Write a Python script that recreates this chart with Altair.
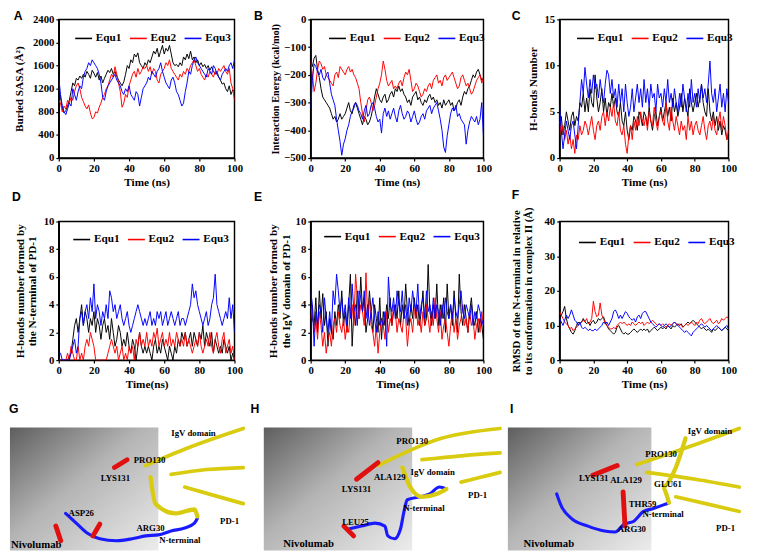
import altair as alt
import pandas as pd

# ---------------- data ----------------
time_ns = list(range(101))
series_names = ["Equ1", "Equ2", "Equ3"]
series_colors = ["#000000", "#ff0000", "#0000ff"]

# A: Buried SASA (Å^2)
sasa_equ1 = [1200, 1050, 850, 780, 820, 900, 1000, 1150, 1300, 1250, 1380,
             1350, 1420, 1380, 1450, 1400, 1500, 1450, 1380, 1520, 1470,
             1400, 1480, 1350, 1420, 1300, 1380, 1450, 1520, 1480, 1550,
             1450, 1500, 1420, 1350, 1300, 1250, 1320, 1450, 1600, 1550,
             1700, 1650, 1800, 1750, 1820, 1650, 1600, 1550, 1650, 1600,
             1700, 1650, 1750, 1850, 1800, 1900, 1750, 1850, 1950, 1800,
             1900, 1850, 1950, 1800, 1650, 1600, 1620, 1580, 1650, 1600,
             1750, 1700, 1800, 1720, 1850, 1700, 1750, 1650, 1700, 1600,
             1650, 1580, 1620, 1550, 1600, 1520, 1580, 1500, 1450, 1500,
             1400, 1350, 1280, 1300, 1200, 1150, 1250, 1100, 1180, 1150]
sasa_equ2 = [1000, 950, 800, 900, 850, 1000, 950, 1050, 1000, 1150, 1250,
             1300, 1200, 1050, 980, 900, 850, 920, 780, 680, 700,
             800, 780, 880, 950, 1050, 1100, 1200, 1250, 1350, 1450,
             1400, 1580, 1450, 1300, 1150, 880, 950, 1100, 1050, 1250,
             1350, 1450, 1500, 1400, 1550, 1450, 1500, 1580, 1550, 1600,
             1500, 1580, 1450, 1550, 1500, 1350, 1300, 1450, 1500, 1550,
             1650, 1600, 1700, 1550, 1500, 1450, 1400, 1350, 1450, 1400,
             1500, 1450, 1550, 1500, 1600, 1650, 1700, 1600, 1500, 1550,
             1450, 1400, 1350, 1450, 1400, 1500, 1450, 1400, 1500, 1450,
             1550, 1500, 1550, 1600, 1500, 1450, 1550, 1300, 1200, 1000]
sasa_equ3 = [1400, 1100, 900, 800, 750, 850, 950, 900, 1200, 1100, 1000,
             1150, 1250, 1200, 1400, 1500, 1550, 1650, 1600, 1700, 1650,
             1600, 1550, 1450, 1300, 1050, 1000, 1150, 1250, 1300, 1350,
             1400, 1450, 1350, 1300, 1250, 1150, 1100, 1200, 1150, 1250,
             1100, 1050, 1000, 1150, 1100, 900, 1050, 1200, 1250, 1300,
             1400, 1350, 1500, 1450, 1400, 1500, 1550, 1650, 1500, 1400,
             1300, 1250, 1200, 1350, 1400, 1300, 1150, 1100, 1000, 900,
             950, 1150, 1300, 1500, 1450, 1600, 1700, 1750, 1650, 1600,
             1550, 1500, 1450, 1400, 1550, 1500, 1450, 1600, 1550, 1450,
             1400, 1350, 1450, 1500, 1550, 1500, 1600, 1650, 1550, 1700]

# B: Interaction energy (kcal/mol)
ener_equ1 = [-150, -170, -140, -130, -180, -210, -250, -280, -290, -300, -310,
             -320, -340, -360, -350, -370, -360, -340, -360, -350, -340,
             -320, -300, -330, -340, -310, -300, -320, -340, -360, -380,
             -350, -360, -380, -370, -350, -320, -280, -250, -270, -290,
             -300, -280, -270, -300, -290, -270, -260, -280, -250, -260,
             -240, -260, -250, -270, -280, -300, -290, -310, -280, -270,
             -260, -290, -280, -300, -310, -290, -300, -280, -270, -290,
             -280, -300, -290, -310, -300, -320, -290, -310, -300, -290,
             -310, -300, -330, -320, -300, -290, -310, -280, -260, -270,
             -250, -240, -220, -200, -210, -190, -180, -200, -220, -210]
ener_equ2 = [-150, -200, -260, -230, -180, -150, -160, -180, -170, -200, -210,
             -220, -230, -240, -200, -190, -210, -170, -180, -190, -200,
             -180, -170, -190, -180, -200, -210, -230, -250, -300, -340,
             -370, -330, -290, -280, -300, -330, -310, -280, -250, -230,
             -200, -150, -180, -220, -240, -230, -220, -250, -240, -250,
             -230, -220, -240, -210, -190, -200, -180, -220, -260, -250,
             -230, -240, -260, -280, -270, -250, -260, -240, -230, -250,
             -220, -210, -200, -230, -220, -240, -210, -200, -220, -210,
             -200, -190, -210, -230, -250, -240, -210, -200, -220, -240,
             -230, -250, -270, -260, -240, -220, -210, -200, -230, -210]
ener_equ3 = [-320, -220, -160, -170, -190, -200, -180, -210, -220, -200, -190,
             -230, -270, -290, -310, -360, -400, -440, -490, -450, -430,
             -400, -380, -350, -330, -320, -300, -310, -330, -340, -360,
             -330, -310, -350, -340, -310, -300, -320, -350, -370, -360,
             -410, -340, -320, -350, -330, -360, -340, -320, -350, -370,
             -330, -310, -340, -360, -350, -330, -340, -370, -350, -330,
             -360, -380, -370, -350, -340, -360, -330, -320, -310, -340,
             -320, -310, -300, -330, -360, -400, -460, -480, -420, -380,
             -340, -320, -330, -310, -350, -340, -360, -370, -380, -450,
             -400, -370, -350, -360, -370, -350, -380, -360, -300, -420]

# C: H-bonds number
hb_equ1 = [3, 4.5, 2.5, 3.5, 5, 4, 3, 4.5, 5, 3.5, 4.5,
           4, 6, 5.5, 7, 5, 6.5, 5, 7.5, 6, 5.5,
           9, 6.5, 5, 6, 7.5, 5, 6.5, 4.5, 6, 5.5,
           7, 5.5, 6.5, 5, 4.5, 6, 4, 3.5, 5, 3,
           2, 3.5, 3, 4.5, 4, 3, 5, 4.5, 3.5, 5,
           4.5, 3.5, 5.5, 4, 3, 4.5, 5, 3.5, 4.5, 5.5,
           4, 5, 6, 4.5, 5.5, 4, 6.5, 5, 6, 4.5,
           5.5, 7, 5, 6.5, 5.5, 4.5, 7.5, 6, 5, 6,
           7, 5.5, 6.5, 8, 6, 5, 4.5, 7.5, 5, 4,
           5, 3.5, 4.5, 3, 4, 2.5, 3.5, 3, 2, 2.5]
hb_equ2 = [4, 2.5, 3.5, 2, 3, 1.5, 2.5, 1, 2, 0.5, 2.5,
           2, 3.5, 2.5, 3, 4, 3.5, 2.5, 3.5, 4.5, 3,
           2, 3.5, 4, 3, 4.5, 5, 3.5, 5, 4, 5.5,
           4.5, 6, 4, 3.5, 5, 3, 2.5, 3.5, 1.5, 0.5,
           2.5, 3.5, 2, 4, 3, 4.5, 3.5, 5, 4, 3.5,
           4.5, 3, 5, 4, 3.5, 5.5, 4, 3, 4.5, 5,
           4, 3.5, 6, 4, 3, 5.5, 4, 3, 4.5, 3.5,
           2.5, 4, 3, 3.5, 2, 4.5, 3, 4, 2.5, 3.5,
           4, 3, 2.5, 3.5, 4.5, 3, 2, 3.5, 4, 3,
           4.5, 3, 2.5, 4, 5, 3, 4.5, 3.5, 2, 3]
hb_equ3 = [5.5, 3, 1, 2.5, 4, 3, 2, 3.5, 4, 2.5, 1,
           3.5, 6, 8.5, 7, 9.8, 8, 6.5, 8.5, 7, 9,
           7.5, 8, 6.5, 8.5, 7, 6, 8, 9.5, 9, 7,
           8.5, 6.5, 7.5, 5.5, 8, 6, 7.5, 5, 8, 6,
           4.5, 5.5, 7.5, 5, 6.5, 8, 6, 7.5, 5.5, 8.5,
           6, 7.5, 5.5, 8, 6.5, 7, 5, 8, 6.5, 7,
           5.5, 7.5, 6, 8.5, 6, 7, 5.5, 7.5, 6, 5,
           7, 5.5, 8, 6.5, 5, 7, 5.5, 8.5, 6, 7,
           5.5, 7.5, 6, 8, 6.5, 7.5, 6, 8, 10.5, 7,
           6, 7.5, 5, 6.5, 8, 5.5, 7, 5, 7.5, 6]

# D: H-bonds formed by the N-terminal of PD-1
nt_equ1 = [0, 0, 0, 0, 0, 0, 0.3, 0.5, 1.5, 2.5, 3,
           2, 3, 4, 2.5, 3.5, 3, 2, 3, 2.5, 3.5,
           2, 3, 2.5, 1.5, 2.5, 3, 2, 2.5, 1.5, 3,
           2, 1, 1.5, 2.5, 2, 1, 1.5, 1, 2, 1,
           0.5, 1.5, 1, 0, 1, 2, 1, 0.5, 1, 0.5,
           1, 0.5, 0, 1, 1.5, 0.5, 1, 0.5, 1.5, 1,
           0.5, 0, 1, 0.5, 0, 1, 0.5, 1.5, 1, 2,
           1.5, 2, 1, 1.5, 2, 1, 2, 1.5, 1, 2,
           1.5, 2.5, 1, 2, 1.5, 1, 2, 0.5, 1.5, 1,
           0.5, 1, 0.5, 1.5, 1, 0.5, 1, 0, 0.5, 0]
nt_equ2 = [0, 0, 0, 0, 0, 0.5, 0, 1, 0.5, 0, 0,
           1, 0, 0.5, 0, 1, 1.5, 1, 2, 1.5, 1,
           0, 0, 0, 0, 0, 0, 0, 0.5, 1, 1.5,
           1, 0.5, 1, 0, 0.5, 1, 0, 0.5, 0, 1,
           0.5, 1, 0, 1.5, 1, 2, 1, 1.5, 1, 2,
           1, 1.5, 1, 2, 1.5, 2.3, 1, 1.5, 2, 1,
           1.5, 1, 2, 1, 1.5, 1, 2, 1.5, 1, 1.5,
           1, 2, 1, 1.5, 1, 0.5, 1, 1.5, 1, 2,
           1, 0.5, 1, 1.5, 1, 2, 1, 0.5, 1.5, 2,
           1, 0.5, 1.5, 2, 0.5, 1, 1.5, 0.5, 1, 0]
nt_equ3 = [0.5, 0.5, 0, 0, 0, 0, 0, 0.5, 1, 1.5, 0.5,
           1, 3, 3.5, 2.5, 3.5, 4, 3, 4.5, 3.5, 5.5,
           3, 4, 3.5, 2.5, 3.5, 3, 4, 3, 5, 4.5,
           3.5, 4, 3, 3.5, 4, 3, 2.5, 3, 3.5, 2.5,
           2, 2.5, 3, 3.5, 4, 3.5, 3, 2.5, 3, 2.5,
           3, 3.5, 2.5, 3, 2.5, 3.5, 3, 3.5, 2.5, 3,
           3.5, 2.5, 3, 3.5, 3, 2.5, 3, 3.5, 2.5, 3,
           3, 2.5, 3, 3.5, 4, 5.5, 4.5, 5, 4, 3.5,
           3, 2.5, 3, 3.5, 2.5, 3, 4, 4.5, 6.2, 4,
           3.5, 3, 2.5, 3, 3.5, 3, 4.5, 3, 4, 2]

# E: H-bonds formed by the IgV domain of PD-1
igv_equ1 = [4, 3, 2.5, 4.5, 2, 5, 3, 4.8, 2.5, 3.5, 1,
            3, 2, 1.5, 3.5, 2.5, 4, 3, 5, 2.5, 3.5,
            2, 4, 6.2, 1, 3.5, 2.5, 5, 3, 6, 3.5,
            4.5, 2, 3, 5, 3.5, 2, 4, 3, 2, 4.5,
            1.5, 3.5, 2.5, 4, 3, 4.5, 2.5, 3.5, 4, 3,
            5, 2.5, 4, 3, 5.5, 3.5, 2.5, 4, 3, 4.5,
            3, 4, 2.5, 3.5, 5, 2.5, 3, 6.9, 3.5, 2.5,
            4, 3, 5.5, 2.5, 4, 3, 4.5, 2, 5.5, 3,
            4, 2.5, 5, 3, 2, 6.2, 3.5, 2.5, 4, 3,
            2, 3.5, 4.5, 3, 2.5, 3.5, 2, 3, 2.5, 1.5]
igv_equ2 = [3, 4, 2, 3, 1.5, 3.5, 2.5, 1, 2, 0.5, 1.5,
            2, 1, 2.5, 3, 2, 3.5, 2.5, 2, 3, 1.5,
            2.5, 2, 3.5, 4, 2.5, 6.2, 4.5, 3, 4, 3.5,
            2.5, 6.3, 3, 4.5, 2.5, 2, 1, 2.5, 0.5, 2,
            3, 2.5, 1.5, 3.5, 2, 3, 2.5, 4, 3.5, 2,
            3, 2.5, 2, 3.5, 3, 1, 2.5, 3, 2, 3.5,
            4, 2.5, 3, 2, 3.5, 2.5, 4, 3, 2, 3.5,
            2.5, 4.5, 3, 2, 3.5, 1.5, 2.5, 3, 2, 1,
            2.5, 3.5, 2, 3, 1.5, 2.5, 3, 4, 2.5, 3,
            2, 3.5, 2.5, 3, 1.5, 2.5, 3, 2, 3.5, 2.5]
igv_equ3 = [5, 4, 1, 3.5, 2.5, 4, 3.5, 2, 4.5, 3, 2,
            3.5, 2, 5, 4, 6.2, 5, 3.5, 4.5, 3, 4,
            2.5, 4.5, 3, 5.5, 3.5, 4, 2.5, 5, 4.5, 3.5,
            5, 3, 4, 2.5, 3.5, 4.5, 3, 2, 3.5, 2.5,
            3, 2.5, 3.5, 1, 6, 4, 3.5, 4.5, 3, 5,
            4, 3.5, 5, 3, 4, 2.5, 4.5, 3.5, 5, 4,
            3.5, 5.5, 3, 4, 4.5, 3, 5, 3.5, 4, 3,
            4.5, 3, 4, 3.5, 2.5, 4, 3, 4.5, 3.5, 3,
            4, 3, 4.5, 3.5, 3, 4, 5, 3.5, 3, 4,
            3.5, 3, 4, 2.5, 3.5, 3, 4, 3.5, 2.5, 3]

# F: RMSD of the N-terminal (Å)
rmsd_equ1 = [12, 13, 14, 15.5, 12, 10, 9, 8, 7.5, 8.5, 10,
             11, 10.5, 11, 12, 11, 10.5, 11, 10, 11, 11.5,
             10.5, 11, 12, 11.5, 12, 12.5, 11, 10, 9, 8.5,
             8, 7.5, 8, 9.5, 10, 9, 8, 7.5, 8, 7.5,
             7.5, 8, 8.5, 9, 8.5, 8, 8.5, 9, 8.5, 9,
             8.5, 9, 8, 8.5, 9, 9.5, 9, 8.5, 9, 9.5,
             9, 9.5, 9, 10, 9.5, 9, 10, 9.5, 10, 10.5,
             10, 10.5, 9.5, 10, 10.5, 11, 10.5, 11, 11.5, 11,
             10.5, 10, 9.5, 9, 9.5, 9, 8.5, 9, 8.5, 8,
             9, 8.5, 9, 9.5, 9, 8.5, 9, 9.5, 9, 8.5]
rmsd_equ2 = [14, 13, 12, 11, 10.5, 10, 9, 9.5, 8.5, 9, 9.5,
             10, 10.5, 11, 11.5, 11, 12, 10.5, 11, 12, 17,
             14, 12.5, 13, 16.5, 13, 12, 10.5, 10, 9.5, 9,
             9, 9.5, 9, 10, 10.5, 11, 10.5, 11, 10.5, 10,
             10.5, 10, 11, 10.5, 10, 10.5, 11, 10.5, 11, 10,
             10.5, 11, 10.5, 11, 11.5, 11, 10.5, 10, 10.5, 10,
             10.5, 10, 9.5, 10, 10.5, 10, 10.5, 11, 10.5, 10,
             10.5, 10, 9.5, 10, 10.5, 10, 10.5, 11, 10.5, 10,
             11, 10.5, 11.5, 12, 11, 10.5, 11, 11.5, 12, 11,
             10.5, 11, 11.5, 10.5, 11, 12, 11.5, 12, 12.5, 12]
rmsd_equ3 = [12, 11, 10, 11.5, 13, 12, 13, 14.5, 13, 11.5, 11,
             10, 11, 9.5, 9, 9.5, 9, 8.5, 9, 8.5, 8.5,
             9, 8.5, 9, 9.5, 10, 11, 10.5, 11, 10, 11,
             12, 14, 14.5, 13.5, 12, 13, 12, 13, 14, 13.5,
             12.5, 12, 11.5, 12, 11, 12.5, 13, 12, 13.5, 14,
             14, 13, 12, 11, 10.5, 10, 9.5, 10, 10.5, 10,
             9.5, 10, 10.5, 10, 9.5, 10, 10.5, 11, 10.5, 10,
             9.5, 9, 8.5, 8, 8.5, 8, 7.5, 7, 8, 8.5,
             9, 9.5, 10, 10.5, 10, 9.5, 10, 9.5, 9, 8.5,
             9, 9.5, 10, 9.5, 9, 8.5, 9, 9.5, 10, 9]

x_ticks = [0, 20, 40, 60, 80, 100]

# ---------------- illustration placeholders for panels G, H, I ----------------
# (page-like coordinates; the molecular renderings themselves cannot be reproduced)
surface_boxes = [(8, 160), (268, 420), (518, 665)]
ribbon_paths = {
    "g_blue": ("blue", [(65, 517), (77, 528), (87, 537), (100, 543), (117, 545), (133, 543),
                        (147, 540), (160, 539), (173, 535), (187, 532), (197, 527), (200, 522)]),
    "g_y1": ("yellow", [(147, 468), (190, 450), (247, 430)]),
    "g_y2": ("yellow", [(173, 477), (210, 472), (247, 470)]),
    "g_y3": ("yellow", [(187, 490), (215, 498), (247, 507)]),
    "g_loop": ("thin", [(152, 480), (157, 507), (177, 517), (197, 513), (200, 520)]),
    "g_r1": ("red", [(115, 470), (128, 462)]),
    "g_r2": ("red", [(55, 530), (60, 545)]),
    "g_r3": ("red", [(93, 540), (100, 528)]),
    "h_blue": ("blue", [(355, 533), (368, 530), (382, 527), (392, 530), (395, 540), (402, 543),
                        (408, 533), (412, 513), (415, 503), (428, 500), (438, 497), (448, 490), (455, 492)]),
    "h_y1": ("yellow", [(385, 468), (450, 440), (510, 430)]),
    "h_y2": ("yellow", [(430, 462), (470, 458), (510, 455)]),
    "h_y3": ("yellow", [(470, 485), (490, 480), (510, 475)]),
    "h_loop": ("thin", [(410, 470), (418, 490), (430, 500), (445, 497), (455, 492)]),
    "h_r1": ("red", [(363, 482), (385, 465)]),
    "h_r2": ("red", [(350, 530), (360, 540)]),
    "i_blue": ("blue", [(568, 497), (573, 510), (583, 522), (600, 530), (617, 535), (628, 536),
                        (637, 528), (647, 525), (657, 515), (667, 512), (678, 508), (683, 506)]),
    "i_y1": ("yellow", [(650, 467), (700, 450), (755, 430)]),
    "i_y2": ("yellow", [(660, 475), (710, 482), (755, 490)]),
    "i_y3": ("yellow", [(690, 500), (725, 508), (755, 515)]),
    "i_loop": ("thin", [(700, 440), (690, 470), (676, 490), (683, 506)]),
    "i_r1": ("red", [(605, 478), (630, 468)]),
    "i_r2": ("red", [(636, 495), (638, 530)]),
}
residue_labels = [
    ("IgV domain", 196, 435), ("PRO130", 151, 462), ("LYS131", 116, 481), ("ASP26", 81, 517),
    ("ARG30", 152, 532), ("PD-1", 233, 525), ("N-terminal", 182, 544),
    ("PRO130", 420, 443), ("IgV domain", 441, 475), ("ALA129", 397, 480), ("LYS131", 363, 492),
    ("PD-1", 487, 498), ("N-terminal", 432, 512), ("LEU25", 362, 526),
    ("IgV domain", 725, 433), ("PRO130", 675, 456), ("LYS131", 606, 481), ("ALA129", 639, 483),
    ("GLU61", 682, 487), ("THR59", 656, 507), ("N-terminal", 677, 518), ("ARG30", 645, 533),
    ("PD-1", 741, 532),
]
mol_labels = [("Nivolumab", 9, 549), ("Nivolumab", 288, 548), ("Nivolumab", 534, 548)]
panel_letters = [("G", 12, 410), ("H", 259, 410), ("I", 522, 410)]

# ---------------- styling ----------------
SERIF = "Liberation Serif"
SANS = "Liberation Sans"
COL_W = [180, 177, 173]
ROW_H = 142
COL_GAP = 78
ROW_GAP = 65
TOP0 = 16     # page y of the first row's plot top
LEFT0 = 58    # page x of the first column's plot left
BOTTOM_NUDGE = 5


def long_df(a1, a2, a3):
    rows = []
    for name, arr in zip(series_names, (a1, a2, a3)):
        for t, v in zip(time_ns, arr):
            rows.append({"time": t, "value": v, "series": name})
    return pd.DataFrame(rows)


def line_layer(df, ytitle, ydomain, yticks, xtitle, legx, legy, ytitle_pad, ytitle_size=11.5):
    return alt.Chart(df).mark_line(strokeWidth=1.0, clip=True).encode(
        x=alt.X("time:Q", scale=alt.Scale(domain=[0, 100], nice=False),
                axis=alt.Axis(values=x_ticks, title=xtitle, format="d")),
        y=alt.Y("value:Q", scale=alt.Scale(domain=ydomain, nice=False, zero=False),
                axis=alt.Axis(values=yticks, title=ytitle, format="d",
                              titlePadding=ytitle_pad, titleFontSize=ytitle_size)),
        color=alt.Color("series:N",
                        scale=alt.Scale(domain=series_names, range=series_colors),
                        legend=alt.Legend(orient="none", legendX=legx, legendY=legy,
                                          direction="horizontal", title=None,
                                          symbolType="stroke", symbolSize=300,
                                          symbolStrokeWidth=1.6, labelFont=SERIF,
                                          labelFontWeight="bold", labelFontSize=11.5,
                                          labelColor="#000", columnPadding=4,
                                          labelOffset=3, padding=0)),
        detail="series:N",
    )


def letter_title(letter, dx, offset):
    return alt.TitleParams(letter, anchor="start", frame="group", dx=dx, offset=offset,
                           font=SANS, fontSize=12.5, fontWeight="bold", color="#000")


lA = line_layer(long_df(sasa_equ1, sasa_equ2, sasa_equ3), "Buried SASA (Å²)", [0, 2400],
                [0, 400, 800, 1200, 1600, 2000, 2400], "Time (ns)", 16, 10, 8)
lB = line_layer(long_df(ener_equ1, ener_equ2, ener_equ3), "Interaction Energy (kcal/mol)",
                [-500, 0], [-500, -400, -300, -200, -100, 0], "Time (ns)", 18, 10, 3, 10.5)
lC = line_layer(long_df(hb_equ1, hb_equ2, hb_equ3), "H-bonds Number", [0, 15], [0, 5, 10, 15],
                "Time (ns)", 17, 10, 6)
lD = line_layer(long_df(nt_equ1, nt_equ2, nt_equ3),
                ["H-bonds number formed by", "the N-terminal of PD-1"], [0, 10],
                [0, 2, 4, 6, 8, 10], "Time(ns)", 14, 9, 6)
lE = line_layer(long_df(igv_equ1, igv_equ2, igv_equ3),
                ["H-bonds number formed by", "the IgV domain of PD-1"], [0, 10],
                [0, 2, 4, 6, 8, 10], "Time(ns)", 13, 6, 4)
lF = line_layer(long_df(rmsd_equ1, rmsd_equ2, rmsd_equ3),
                ["RMSD of the N-terminal in relative", "to its conformation in complex II (Å)"],
                [0, 40], [0, 10, 20, 30, 40], "Time (ns)", 19, 12, 11, 11)

# ---------------- bottom illustration (drawn from panel D's frame, unclipped) ----------------
d_top = TOP0 + ROW_H + ROW_GAP - BOTTOM_NUDGE
bx = alt.Scale(domain=[LEFT0, LEFT0 + COL_W[0]], nice=False, zero=False)
by = alt.Scale(domain=[d_top, d_top + ROW_H], nice=False, zero=False, reverse=True)

box_df = pd.DataFrame([{"x1": a, "x2": b, "y1": 429, "y2": 555} for a, b in surface_boxes])
surface = alt.Chart(box_df).mark_rect(
    clip=False,
    fill=alt.LinearGradient(gradient="linear", x1=0, y1=0, x2=1, y2=1,
                            stops=[alt.GradientStop(color="#5e5e5e", offset=0),
                                   alt.GradientStop(color="#b4b4b4", offset=0.45),
                                   alt.GradientStop(color="#ececec", offset=1)]),
).encode(x=alt.X("x1:Q", scale=bx, axis=None), x2="x2:Q",
         y=alt.Y("y1:Q", scale=by, axis=None), y2="y2:Q")

path_rows = []
for name, (kind, pts) in ribbon_paths.items():
    for i, (px, py) in enumerate(pts):
        path_rows.append({"path": name, "kind": kind, "ord": i, "px": px, "py": py})
path_df = pd.DataFrame(path_rows)
kinds = ["blue", "yellow", "thin", "red"]
paths = alt.Chart(path_df).mark_line(clip=False, strokeCap="round", interpolate="monotone").encode(
    x=alt.X("px:Q", scale=bx, axis=None),
    y=alt.Y("py:Q", scale=by, axis=None),
    detail="path:N",
    order="ord:Q",
    color=alt.Color("kind:N", scale=alt.Scale(domain=kinds,
                                              range=["#1a1aff", "#d9cc10", "#d9cc10", "#e01010"]),
                    legend=None),
    strokeWidth=alt.StrokeWidth("kind:N", scale=alt.Scale(domain=kinds, range=[3.2, 5, 1.8, 2.5]),
                                legend=None),
)

lab_df = pd.DataFrame([{"label": t, "px": x, "py": y} for t, x, y in residue_labels])
labels = alt.Chart(lab_df).mark_text(font=SERIF, fontWeight="bold", fontSize=9,
                                     color="#000", clip=False).encode(
    x=alt.X("px:Q", scale=bx, axis=None), y=alt.Y("py:Q", scale=by, axis=None), text="label:N")

mol_df = pd.DataFrame([{"label": t, "px": x, "py": y} for t, x, y in mol_labels])
mols = alt.Chart(mol_df).mark_text(font=SERIF, fontWeight="bold", fontSize=11, align="left",
                                   color="#000", clip=False).encode(
    x=alt.X("px:Q", scale=bx, axis=None), y=alt.Y("py:Q", scale=by, axis=None), text="label:N")

let_df = pd.DataFrame([{"label": t, "px": x, "py": y} for t, x, y in panel_letters])
letters = alt.Chart(let_df).mark_text(font=SANS, fontWeight="bold", fontSize=12.5,
                                      color="#000", clip=False).encode(
    x=alt.X("px:Q", scale=bx, axis=None), y=alt.Y("py:Q", scale=by, axis=None), text="label:N")

pA = lA.properties(width=COL_W[0], height=ROW_H, title=letter_title("A", -46, -9))
pB = lB.properties(width=COL_W[1], height=ROW_H, title=letter_title("B", -58, -9))
pC = lC.properties(width=COL_W[2], height=ROW_H, title=letter_title("C", -49, -9))
pD = alt.layer(lD, surface, paths, labels, mols, letters).resolve_scale(
    x="independent", y="independent", color="independent", strokeWidth="independent"
).properties(width=COL_W[0], height=ROW_H, title=letter_title("D", -48, 12))
pE = lE.properties(width=COL_W[1], height=ROW_H, title=letter_title("E", -58, 12))
pF = lF.properties(width=COL_W[2], height=ROW_H, title=letter_title("F", -49, 5))

chart = alt.concat(
    pA, pB, pC, pD, pE, pF, columns=3, bounds="flush", align="each",
    spacing=alt.RowColnumber(row=ROW_GAP, column=COL_GAP),
).resolve_scale(
    color="independent", x="independent", y="independent"
).resolve_legend(color="independent").properties(
    padding={"left": 0, "top": -6, "right": 2, "bottom": 0}
).configure(
    font=SERIF,
).configure_view(
    stroke="#000", strokeWidth=1.5
).configure_axis(
    labelFont=SERIF, labelFontWeight="bold", labelFontSize=11, labelColor="#000",
    titleFont=SERIF, titleFontWeight="bold", titleFontSize=11.5, titleColor="#000",
    titleLineHeight=12.5,
    domainColor="#000", domainWidth=1.5, tickColor="#000", tickWidth=1.2, tickSize=3,
    grid=False, labelPadding=2, labelFlush=False,
).configure_axisX(titlePadding=3)

chart.save("out.html", embed_options={"renderer": "svg", "actions": False})
